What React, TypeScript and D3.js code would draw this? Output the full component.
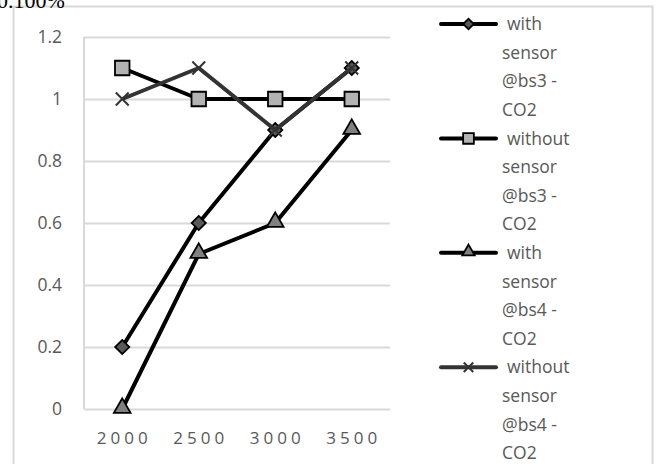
import React, { useEffect, useRef } from 'react';
import * as d3 from 'd3';

const categories = ['2000', '2500', '3000', '3500'];
const yTicks = [0, 0.2, 0.4, 0.6, 0.8, 1, 1.2];
const withBs3 = [0.2, 0.6, 0.9, 1.1];
const withoutBs3 = [1.1, 1, 1, 1];
const withBs4 = [0, 0.5, 0.6, 0.9];
const withoutBs4 = [1, 1.1, 0.9, 1.1];
const labels = [
  ['with', 'sensor', '@bs3 -', 'CO2'],
  ['without', 'sensor', '@bs3 -', 'CO2'],
  ['with', 'sensor', '@bs4 -', 'CO2'],
  ['without', 'sensor', '@bs4 -', 'CO2'],
];

const W = 657, H = 464;
const font = "'Open Sans', 'Noto Sans', sans-serif";

export default function App() {
  const ref = useRef<SVGSVGElement>(null);

  useEffect(() => {
    const svg = d3.select(ref.current);
    svg.selectAll('*').remove();

    const margin = { top: 37, left: 84, right: 267, bottom: 55 };
    const x = d3.scaleBand().domain(categories).range([margin.left, W - margin.right]);
    const y = d3.scaleLinear().domain([0, 1.2]).range([H - margin.bottom, margin.top]);

    // frame
    svg.append('path').attr('d', `M13.5,${H} V6.5 H652.5 V${H}`)
      .attr('fill', 'none').attr('stroke', '#d9d9d9').attr('stroke-width', 2);
    svg.append('text').attr('x', -3).attr('y', 8).attr('font-family', 'Times New Roman, Liberation Serif, serif')
      .attr('font-size', 22).text('0.100%');

    // grid
    svg.append('g').selectAll('line').data(yTicks).join('line')
      .attr('x1', margin.left).attr('x2', W - margin.right)
      .attr('y1', d => Math.round(y(d)) + 0.5).attr('y2', d => Math.round(y(d)) + 0.5)
      .attr('stroke', '#d9d9d9').attr('stroke-width', 2);
    svg.append('line').attr('x1', margin.left).attr('x2', margin.left)
      .attr('y1', y(1.2)).attr('y2', y(0)).attr('stroke', '#d9d9d9').attr('stroke-width', 2);

    svg.append('g').selectAll('text').data(yTicks).join('text')
      .attr('x', 62).attr('y', d => y(d)).attr('dy', '0.35em').attr('text-anchor', 'end')
      .attr('font-family', font).attr('font-size', 17.5).attr('fill', '#595959')
      .text(d => String(d));

    svg.append('g').selectAll('text').data(categories).join('text')
      .attr('x', d => x(d)! + x.bandwidth() / 2 + 2).attr('y', 438).attr('dy', '0.35em')
      .attr('text-anchor', 'middle').attr('letter-spacing', 4)
      .attr('font-family', font).attr('font-size', 17).attr('fill', '#595959')
      .text(d => d);

    const cx = (i: number) => x(categories[i])! + x.bandwidth() / 2;
    const line = d3.line<number>().x((_, i) => cx(i)).y(d => y(d));

    const series = [
      { data: withBs3, color: '#000', sym: d3.symbolSquare, rot: 45, size: 100, fill: '#595959', mstroke: '#000' },
      { data: withoutBs3, color: '#000', sym: d3.symbolSquare, rot: 0, size: 210, fill: '#b3b3b3', mstroke: '#000' },
      { data: withBs4, color: '#000', sym: d3.symbolTriangle, rot: 0, size: 120, fill: '#808080', mstroke: '#000' },
      { data: withoutBs4, color: '#333', sym: d3.symbolX, rot: 0, size: 110, fill: 'none', mstroke: '#333' },
    ];

    const drawMarker = (g: any, s: any, px: number, py: number) => {
      const tri = s.sym === d3.symbolTriangle ? 1 : 0;
      g.append('path').attr('d', d3.symbol(s.sym, s.size)())
        .attr('transform', `translate(${px},${py - tri}) rotate(${s.rot})`)
        .attr('fill', s.fill).attr('stroke', s.mstroke)
        .attr('stroke-width', s.sym === d3.symbolX ? 2 : 1.8);
    };

    series.forEach(s => {
      const g = svg.append('g');
      g.append('path').attr('d', line(s.data)).attr('fill', 'none')
        .attr('stroke', s.color).attr('stroke-width', 4).attr('stroke-linejoin', 'round');
      s.data.forEach((d, i) => drawMarker(g, s, cx(i), y(d)));
    });

    // legend
    const lh = 28.6;
    series.forEach((s, k) => {
      const top = 24 + k * 4 * lh;
      const g = svg.append('g');
      g.append('line').attr('x1', 441).attr('x2', 496).attr('y1', top).attr('y2', top)
        .attr('stroke', s.color).attr('stroke-width', 4).attr('stroke-linecap', 'round');
      drawMarker(g, { ...s, size: s.size * 0.55 }, 468.5, top);
      labels[k].forEach((t, j) => {
        g.append('text').attr('x', j === 0 ? 507 : 502).attr('y', top + j * lh).attr('dy', '0.35em')
          .attr('font-family', font).attr('font-size', 17.5).attr('fill', '#595959').text(t);
      });
    });
  }, []);

  return (
    <svg ref={ref} width={W} height={H}
      style={{ position: 'absolute', left: 0, top: 0, background: '#fff' }} />
  );
}
